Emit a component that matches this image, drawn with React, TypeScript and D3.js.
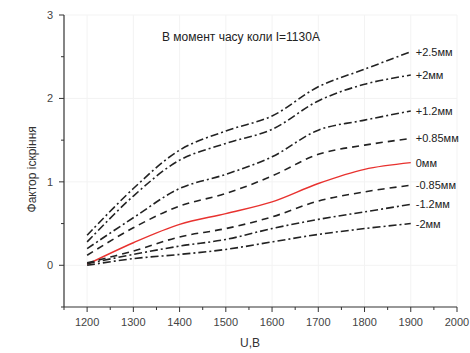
import React from "react";
import * as d3 from "d3";

const voltages = [1200, 1300, 1400, 1500, 1600, 1700, 1800, 1900];
const seriesNames = ["+2.5мм", "+2мм", "+1.2мм", "+0.85мм", "0мм", "-0.85мм", "-1.2мм", "-2мм"];
const sP25 = [0.36, 0.92, 1.38, 1.61, 1.79, 2.14, 2.35, 2.56];
const sP2 = [0.28, 0.83, 1.26, 1.46, 1.63, 1.97, 2.17, 2.28];
const sP12 = [0.20, 0.57, 0.92, 1.09, 1.30, 1.62, 1.74, 1.85];
const sP085 = [0.12, 0.45, 0.71, 0.86, 1.07, 1.33, 1.44, 1.52];
const s0 = [0.01, 0.27, 0.49, 0.62, 0.76, 0.98, 1.15, 1.23];
const sM085 = [0.03, 0.17, 0.34, 0.44, 0.58, 0.77, 0.88, 0.96];
const sM12 = [0.02, 0.13, 0.23, 0.31, 0.44, 0.55, 0.64, 0.73];
const sM2 = [0.0, 0.08, 0.13, 0.19, 0.28, 0.37, 0.44, 0.50];
const allSeries = [sP25, sP2, sP12, sP085, s0, sM085, sM12, sM2];
const styles = ["dashdot", "dashdot", "dashdot", "dash", "solid", "dash", "dashdot", "dashdot"];
const xTicks = [1200, 1300, 1400, 1500, 1600, 1700, 1800, 1900, 2000];
const xMinor = [1150, 1250, 1350, 1450, 1550, 1650, 1750, 1850, 1950];
const yTicks = [0, 1, 2, 3];
const yMinor = [-0.5, 0.5, 1.5, 2.5];
const title = "В момент часу коли I=1130A";
const xLabel = "U,B";
const yLabel = "Фактор іскріння";

export default function App() {
  const W = 470, H = 353;
  const x = d3.scaleLinear().domain([1150, 2000]).range([64, 457]);
  const y = d3.scaleLinear().domain([-0.5, 3]).range([307, 15]);
  const line = d3.line<number>()
    .x((_, i) => x(voltages[i]))
    .y((d) => y(d))
    .curve(d3.curveCatmullRom.alpha(0.5));
  const dashFor = (s: string) =>
    s === "dashdot" ? "8,3,2,3" : s === "dash" ? "7,5" : undefined;
  const font = "'Liberation Sans', Arial, sans-serif";
  return (
    <svg width={W} height={H} style={{ position: "absolute", left: 0, top: 0, background: "#fff" }} fontFamily={font}>
      {xTicks.map((t) => (
        <line key={"gx" + t} x1={x(t)} x2={x(t)} y1={y(3)} y2={y(-0.5)} stroke="#f3f3f3" strokeWidth={1} />
      ))}
      {yTicks.map((t) => (
        <line key={"gy" + t} x1={x(1150)} x2={x(2000)} y1={y(t)} y2={y(t)} stroke="#f3f3f3" strokeWidth={1} />
      ))}
      <line x1={64} x2={64} y1={y(3)} y2={y(-0.5)} stroke="#333" strokeWidth={1.2} />
      <line x1={64} x2={x(2000)} y1={y(-0.5)} y2={y(-0.5)} stroke="#333" strokeWidth={1.2} />
      {yTicks.map((t) => (
        <g key={"yt" + t}>
          <line x1={59} x2={64} y1={y(t)} y2={y(t)} stroke="#333" strokeWidth={1} />
          <text x={53} y={y(t) + 4} fontSize={11} textAnchor="end" fill="#444">{t}</text>
        </g>
      ))}
      {yMinor.map((t) => (
        <line key={"ym" + t} x1={61} x2={64} y1={y(t)} y2={y(t)} stroke="#333" strokeWidth={1} />
      ))}
      {xTicks.map((t) => (
        <g key={"xt" + t}>
          <line x1={x(t)} x2={x(t)} y1={y(-0.5)} y2={y(-0.5) + 5} stroke="#333" strokeWidth={1} />
          <text x={x(t)} y={y(-0.5) + 19} fontSize={11} textAnchor="middle" fill="#444">{t}</text>
        </g>
      ))}
      {xMinor.map((t) => (
        <line key={"xm" + t} x1={x(t)} x2={x(t)} y1={y(-0.5)} y2={y(-0.5) + 3} stroke="#333" strokeWidth={1} />
      ))}
      <text x={250} y={347} fontSize={12} textAnchor="middle" fill="#333">{xLabel}</text>
      <text transform={`translate(36,${y(1.15)}) rotate(-90)`} fontSize={12} textAnchor="middle" fill="#333">{yLabel}</text>
      <text x={162} y={41} fontSize={12} fill="#222">{title}</text>
      {allSeries.map((s, i) => (
        <path key={"s" + i} d={line(s) || ""} fill="none"
          stroke={styles[i] === "solid" ? "#e8322f" : "#222"}
          strokeWidth={styles[i] === "solid" ? 1.4 : 1.6}
          strokeDasharray={dashFor(styles[i])} />
      ))}
      {allSeries.map((s, i) => (
        <text key={"l" + i} x={x(1900) + 5} y={y(s[s.length - 1]) + 4} fontSize={11} fill="#222">{seriesNames[i]}</text>
      ))}
    </svg>
  );
}
